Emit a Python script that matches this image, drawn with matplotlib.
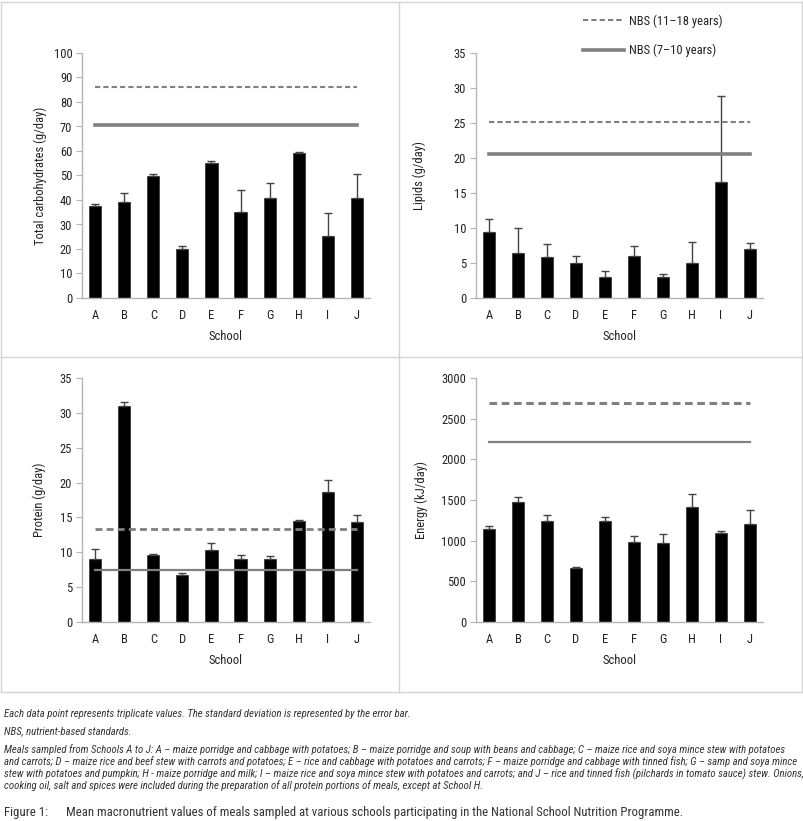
import numpy as np
import matplotlib
matplotlib.use("Agg")
import matplotlib.pyplot as plt
from matplotlib.lines import Line2D

plt.rcParams['font.family'] = ['Roboto Condensed', 'Liberation Sans', 'DejaVu Sans']

schools = ["A", "B", "C", "D", "E", "F", "G", "H", "I", "J"]

carbs = [37.5, 39.2, 49.8, 20.1, 55.3, 35.1, 40.8, 59.3, 25.3, 40.8]
carbs_sd = [0.8, 3.6, 1.0, 1.0, 0.5, 8.9, 6.0, 0.2, 9.3, 9.7]
carbs_nbs = (86.0, 70.8)

lipids = [9.4, 6.4, 5.9, 5.0, 3.0, 6.0, 3.0, 5.0, 16.5, 7.0]
lipids_sd = [1.9, 3.6, 1.8, 1.0, 0.8, 1.4, 0.4, 3.0, 12.4, 0.8]
lipids_nbs = (25.1, 20.6)

protein = [9.1, 31.0, 9.6, 6.8, 10.3, 9.1, 9.1, 14.5, 18.7, 14.3]
protein_sd = [1.3, 0.5, 0.2, 0.3, 1.0, 0.5, 0.4, 0.1, 1.7, 1.1]
protein_nbs = (13.4, 7.5)

energy = [1140, 1480, 1240, 670, 1240, 980, 970, 1420, 1090, 1210]
energy_sd = [45, 60, 70, 5, 45, 75, 110, 155, 25, 170]
energy_nbs = (2690, 2210)

W, H = 804, 821
fig = plt.figure(figsize=(W / 100, H / 100), dpi=100)
renderer = fig.canvas.get_renderer()


def px_axes(left, right, top, bottom):
    return fig.add_axes([left / W, 1 - bottom / H, (right - left) / W, (bottom - top) / H])


GRAY = "#808080"
AX_GRAY = "#b4b4b4"
TXT = "#222222"
FS = 9


def panel(ax, vals, sd, nbs, ymax, step, ylabel, lw_dash, lw_solid, label_off):
    x = np.arange(len(schools))
    ax.bar(x, vals, width=0.42, color="black", edgecolor="#3a3a3a", linewidth=0.6, zorder=2)
    ax.errorbar(x, vals, yerr=[np.zeros(len(vals)), sd], fmt="none", ecolor="#444444",
                elinewidth=1.0, capsize=3, capthick=1.0, zorder=3)
    ax.plot([x[0], x[-1]], [nbs[0]] * 2, color=GRAY, lw=lw_dash, ls=(0, (2.5, 1.5)), zorder=4)
    ax.plot([x[0], x[-1]], [nbs[1]] * 2, color=GRAY, lw=lw_solid, zorder=4)
    ax.set_xlim(-0.45, 9.45)
    ax.set_ylim(0, ymax)
    ax.set_yticks(np.arange(0, ymax + step / 2, step))
    ax.set_xticks(x)
    ax.set_xticklabels(schools)
    for sp in ("top", "right"):
        ax.spines[sp].set_visible(False)
    for sp in ("left", "bottom"):
        ax.spines[sp].set_color(AX_GRAY)
        ax.spines[sp].set_linewidth(1.0)
    ax.tick_params(axis="y", length=4, width=0.8, color=AX_GRAY, labelsize=FS, labelcolor=TXT, pad=3)
    ax.tick_params(axis="x", length=0, labelsize=FS, labelcolor=TXT, pad=8)
    ax.set_xlabel("School", fontsize=FS, color=TXT, labelpad=6)
    ax.set_ylabel(ylabel, fontsize=FS, color=TXT)
    # label offset from the y axis, in pixels
    width_px = ax.get_position().width * W
    ax.yaxis.set_label_coords(-label_off / width_px, 0.5)


ax1 = px_axes(82, 370, 53, 298)
panel(ax1, carbs, carbs_sd, carbs_nbs, 100, 10, "Total carbohydrates (g/day)", 1.5, 2.6, 35)

ax2 = px_axes(476, 763, 53, 298)
panel(ax2, lipids, lipids_sd, lipids_nbs, 35, 5, "Lipids (g/day)", 1.5, 2.6, 50)

ax3 = px_axes(82, 370, 378, 622)
panel(ax3, protein, protein_sd, protein_nbs, 35, 5, "Protein (g/day)", 2.0, 1.6, 36)

ax4 = px_axes(476, 763, 378, 622)
panel(ax4, energy, energy_sd, energy_nbs, 3000, 500, "Energy (kJ/day)", 2.2, 1.6, 48)

fig.legend([Line2D([], [], color=GRAY, lw=1.5, ls=(0, (2.5, 1.5))),
            Line2D([], [], color=GRAY, lw=2.6)],
           ["NBS (11\u201318 years)", "NBS (7\u201310 years)"],
           loc="upper left", bbox_to_anchor=(572 / W, 1 - 3 / H), frameon=False,
           fontsize=FS, handlelength=3.3, handletextpad=0.4, labelspacing=1.3,
           labelcolor=TXT)

# panel frame lines
frame = dict(color="#d4d4d4", lw=1.0, transform=fig.transFigure)
for (x0, y0, x1, y1) in [(1.5, 2, 802.5, 2), (1.5, 692, 802.5, 692), (1.5, 2, 1.5, 692),
                         (802.5, 2, 802.5, 692), (399, 2, 399, 692), (1.5, 357, 802.5, 357)]:
    fig.add_artist(Line2D([x0 / W, x1 / W], [1 - y0 / H, 1 - y1 / H], **frame))


def fit_text(x, y, s, size, target_w, **kw):
    t = fig.text(x / W, 1 - y / H, s, fontsize=size, va="center", ha="left", **kw)
    w = t.get_window_extent(renderer).width
    t.set_fontsize(size * target_w / w)
    return t


note_kw = dict(style="italic", color="#333333")
meals = [
    "Meals sampled from Schools A to J: A \u2013 maize porridge and cabbage with potatoes; B \u2013 maize porridge and soup with beans and cabbage; C \u2013 maize rice and soya mince stew with potatoes",
    "and carrots; D \u2013 maize rice and beef stew with carrots and potatoes; E \u2013 rice and cabbage with potatoes and carrots; F \u2013 maize porridge and cabbage with tinned fish; G \u2013 samp and soya mince",
    "stew with potatoes and pumpkin; H - maize porridge and milk; I \u2013 maize rice and soya mince stew with potatoes and carrots; and J \u2013 rice and tinned fish (pilchards in tomato sauce) stew. Onions,",
    "cooking oil, salt and spices were included during the preparation of all protein portions of meals, except at School H.",
]
# common font size so the longest line fills the page width
probe = fig.text(0, 0, meals[2], fontsize=6.5, **note_kw)
note_size = 6.5 * 797 / probe.get_window_extent(renderer).width
probe.remove()

fig.text(4 / W, 1 - 714 / H,
         "Each data point represents triplicate values. The standard deviation is represented by the error bar.",
         fontsize=note_size, va="center", ha="left", **note_kw)
fig.text(4 / W, 1 - 731 / H, "NBS, nutrient-based standards.",
         fontsize=note_size, va="center", ha="left", **note_kw)
for i, line in enumerate(meals):
    fig.text(4 / W, 1 - (750 + 12 * i) / H, line, fontsize=note_size, va="center", ha="left", **note_kw)

fit_text(4, 812, "Figure 1:", 9, 44, color="#333333")
fit_text(66, 812,
         "Mean macronutrient values of meals sampled at various schools participating in the National School Nutrition Programme.",
         9, 617, color="#333333")

fig.savefig("out.png", dpi=100)
